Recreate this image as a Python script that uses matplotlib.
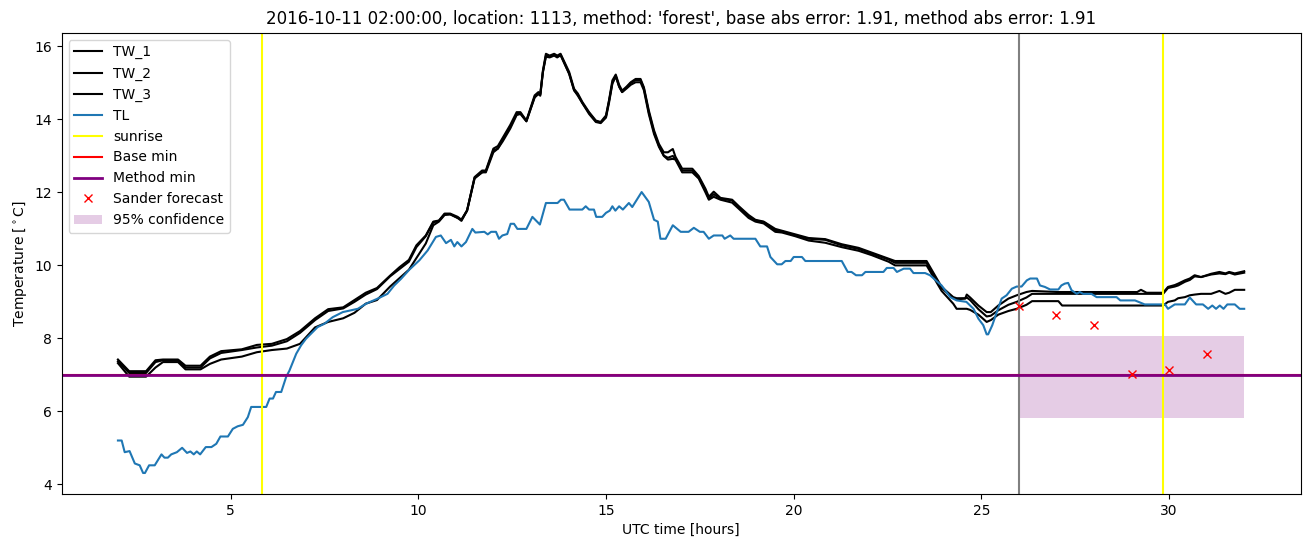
import matplotlib
matplotlib.use("Agg")
import matplotlib.pyplot as plt

# Shared time knots (UTC hours) for the three water temperature sensors
tw_time = [2.0, 2.3, 2.75, 3.0, 3.2, 3.6, 3.8, 4.2, 4.45, 4.75, 5.3, 5.7, 6.1, 6.5,
           6.85, 7.25, 7.6, 8.0, 8.3, 8.6, 8.9, 9.25, 9.5, 9.75, 9.95, 10.2, 10.4,
           10.55, 10.7, 10.85, 11.05, 11.15, 11.3, 11.5, 11.7, 11.8, 12.0, 12.12,
           12.25, 12.45, 12.62, 12.72, 12.88, 13.1, 13.2, 13.25, 13.32, 13.4, 13.5,
           13.62, 13.7, 13.79, 14.02, 14.15, 14.25, 14.37, 14.55, 14.73, 14.86,
           15.0, 15.08, 15.17, 15.26, 15.35, 15.43, 15.55, 15.66, 15.79, 15.92,
           16.01, 16.14, 16.28, 16.41, 16.54, 16.65, 16.78, 16.85, 17.03, 17.3,
           17.47, 17.65, 17.74, 17.87, 18.05, 18.36, 18.54, 18.8, 18.98, 19.2,
           19.51, 19.69, 20.04, 20.4, 20.84, 21.28, 21.73, 22.08, 22.53, 22.7,
           23.54, 23.94, 24.25, 24.34, 24.57, 24.61, 24.7, 24.92, 25.14, 25.25,
           25.45, 25.72, 25.94, 26.2, 26.35, 27.05, 27.15, 29.15, 29.25, 29.4,
           29.84, 29.97, 30.15, 30.24, 30.42, 30.55, 30.68, 30.85, 31.12, 31.34,
           31.5, 31.6, 31.75, 32.0]

tw_1 = [7.42, 7.1, 7.1, 7.4, 7.42, 7.42, 7.25, 7.25, 7.5, 7.65, 7.7, 7.82, 7.85, 7.98,
        8.2, 8.55, 8.8, 8.85, 9.05, 9.25, 9.38, 9.72, 9.95, 10.15, 10.55, 10.82, 11.2,
        11.23, 11.42, 11.42, 11.33, 11.25, 11.51, 12.42, 12.6, 12.6, 13.2, 13.27,
        13.5, 13.85, 14.2, 14.2, 13.97, 14.66, 14.75, 14.7, 15.34, 15.8, 15.75,
        15.8, 15.75, 15.8, 15.3, 14.84, 14.71, 14.48, 14.2, 13.97, 13.93,
        14.11, 14.52, 15.07, 15.23, 14.95, 14.79, 14.9, 15.02, 15.11, 15.11,
        14.88, 14.25, 13.7, 13.33, 13.1, 13.1, 13.19, 12.98, 12.65, 12.65,
        12.45, 12.1, 11.88, 12.02, 11.85, 11.8, 11.62, 11.38, 11.25, 11.2,
        11.0, 10.95, 10.85, 10.75, 10.72, 10.58, 10.48, 10.35, 10.18, 10.12,
        10.12, 9.41, 9.13, 9.1, 9.1, 9.2, 9.12, 8.9, 8.72, 8.72,
        8.9, 9.09, 9.18, 9.27, 9.3, 9.27, 9.27, 9.27, 9.33, 9.25,
        9.25, 9.41, 9.46, 9.5, 9.59, 9.64, 9.73, 9.68, 9.77, 9.82,
        9.78, 9.82, 9.78, 9.84]

tw_2 = [7.37, 7.05, 7.05, 7.35, 7.4, 7.4, 7.2, 7.2, 7.45, 7.6, 7.68, 7.75, 7.8, 7.92,
        8.15, 8.5, 8.75, 8.82, 9.0, 9.2, 9.35, 9.7, 9.9, 10.1, 10.5, 10.8, 11.18,
        11.22, 11.4, 11.4, 11.3, 11.22, 11.5, 12.4, 12.55, 12.58, 13.15, 13.2,
        13.45, 13.8, 14.15, 14.18, 13.95, 14.62, 14.7, 14.68, 15.3, 15.75, 15.72,
        15.78, 15.72, 15.78, 15.25, 14.8, 14.68, 14.45, 14.18, 13.95, 13.92,
        14.08, 14.5, 15.0, 15.2, 14.9, 14.75, 14.88, 15.0, 15.08, 15.08,
        14.85, 14.2, 13.65, 13.28, 13.01, 12.95, 13.0, 12.92, 12.6, 12.6,
        12.42, 12.05, 11.83, 11.95, 11.83, 11.78, 11.6, 11.33, 11.23, 11.19,
        10.96, 10.93, 10.82, 10.73, 10.7, 10.55, 10.45, 10.32, 10.16, 10.07,
        10.07, 9.38, 9.1, 9.07, 9.09, 9.12, 9.05, 8.8, 8.6, 8.62,
        8.77, 8.92, 9.0, 9.12, 9.22, 9.22, 9.22, 9.22, 9.22, 9.22,
        9.22, 9.38, 9.42, 9.45, 9.55, 9.6, 9.7, 9.68, 9.75, 9.78,
        9.76, 9.8, 9.75, 9.8]

tw_3 = [7.32, 6.95, 6.95, 7.2, 7.35, 7.35, 7.15, 7.15, 7.3, 7.42, 7.5, 7.62, 7.68, 7.72,
        7.85, 8.3, 8.45, 8.55, 8.7, 8.95, 9.05, 9.42, 9.65, 9.88, 10.2, 10.6, 11.1,
        11.2, 11.38, 11.4, 11.3, 11.25, 11.5, 12.38, 12.55, 12.55, 13.1, 13.2,
        13.4, 13.75, 14.12, 14.15, 13.95, 14.6, 14.7, 14.65, 15.3, 15.72, 15.7,
        15.75, 15.7, 15.76, 15.25, 14.8, 14.65, 14.45, 14.15, 13.93, 13.9,
        14.05, 14.45, 14.98, 15.18, 14.9, 14.75, 14.85, 14.95, 15.02, 15.02,
        14.8, 14.15, 13.6, 13.25, 13.0, 12.9, 12.92, 12.9, 12.55, 12.55,
        12.38, 12.0, 11.8, 11.88, 11.8, 11.72, 11.55, 11.3, 11.2, 11.15,
        10.92, 10.9, 10.8, 10.68, 10.62, 10.5, 10.4, 10.28, 10.1, 10.0,
        10.0, 9.3, 8.95, 8.81, 8.81, 8.81, 8.78, 8.65, 8.45, 8.5,
        8.65, 8.75, 8.81, 8.92, 9.02, 9.02, 8.9, 8.9, 8.9, 8.9,
        8.9, 9.0, 9.04, 9.1, 9.13, 9.18, 9.2, 9.22, 9.22, 9.3,
        9.22, 9.25, 9.33, 9.33]

# Air temperature (TL)
tl_time = [2.0, 2.1, 2.18, 2.31, 2.45, 2.58, 2.67, 2.72, 2.83, 2.98, 3.16, 3.24, 3.33,
           3.42, 3.57, 3.71, 3.84, 3.93, 4.02, 4.1, 4.19, 4.34, 4.49, 4.62, 4.73, 4.93,
           5.06, 5.19, 5.33, 5.46, 5.55, 5.95, 6.04, 6.13, 6.21, 6.35, 6.48, 6.57,
           6.75, 6.88, 7.01, 7.32, 7.5, 7.72, 7.99, 8.39, 8.61, 8.92, 9.18, 9.36,
           9.54, 9.76, 10.03, 10.25, 10.47, 10.6, 10.74, 10.87, 10.96, 11.04, 11.15,
           11.27, 11.44, 11.52, 11.76, 11.85, 11.94, 12.07, 12.15, 12.24, 12.37,
           12.46, 12.55, 12.64, 12.88, 13.04, 13.24, 13.4, 13.71, 13.8, 13.88,
           14.03, 14.37, 14.46, 14.55, 14.68, 14.74, 14.9, 15.0, 15.1, 15.17,
           15.25, 15.35, 15.45, 15.61, 15.7, 15.84, 15.95, 16.14, 16.28, 16.38,
           16.45, 16.59, 16.78, 16.99, 17.2, 17.34, 17.5, 17.6, 17.74, 17.87, 18.1,
           18.16, 18.31, 18.4, 18.98, 19.11, 19.29, 19.38, 19.56, 19.68, 19.78,
           19.92, 20.0, 20.22, 20.31, 21.28, 21.44, 21.54, 21.66, 21.82, 21.91,
           22.39, 22.48, 22.66, 22.75, 22.93, 23.1, 23.19, 23.5, 23.63, 23.94,
           24.17, 24.34, 24.6, 24.79, 24.92, 25.05, 25.14, 25.18, 25.29, 25.41,
           25.54, 25.67, 25.81, 25.94, 26.07, 26.21, 26.3, 26.48, 26.56, 26.69,
           26.83, 27.05, 27.13, 27.22, 27.31, 27.4, 27.54, 27.62, 27.71, 27.93,
           28.07, 28.6, 28.7, 29.09, 29.35, 29.89, 29.97, 30.15, 30.42, 30.55,
           30.72, 30.9, 31.04, 31.15, 31.25, 31.35, 31.45, 31.55, 31.75, 31.88,
           32.0]

tl = [5.2, 5.2, 4.88, 4.91, 4.57, 4.52, 4.31, 4.31, 4.52, 4.52, 4.82, 4.73, 4.73,
      4.82, 4.88, 5.0, 4.86, 4.9, 4.82, 4.9, 4.82, 5.02, 5.02, 5.11, 5.31, 5.31,
      5.52, 5.59, 5.63, 5.84, 6.12, 6.12, 6.35, 6.35, 6.53, 6.53, 6.94, 7.12,
      7.58, 7.81, 7.99, 8.31, 8.4, 8.58, 8.72, 8.81, 8.95, 9.09, 9.22, 9.45,
      9.63, 9.88, 10.14, 10.41, 10.78, 10.82, 10.61, 10.7, 10.52, 10.64, 10.52,
      10.64, 11.0, 10.9, 10.92, 10.85, 10.92, 10.92, 10.73, 10.82, 10.86,
      11.14, 11.14, 11.0, 11.0, 11.33, 11.12, 11.71, 11.71, 11.8, 11.8,
      11.53, 11.53, 11.62, 11.53, 11.53, 11.33, 11.33, 11.44, 11.5, 11.62,
      11.5, 11.62, 11.53, 11.71, 11.6, 11.83, 12.01, 11.74, 11.25, 11.2,
      10.73, 10.73, 11.1, 10.92, 10.92, 11.03, 10.92, 10.92, 10.73, 10.82, 10.82,
      10.73, 10.82, 10.73, 10.73, 10.52, 10.52, 10.23, 10.03, 10.03, 10.12,
      10.12, 10.23, 10.23, 10.12, 10.12, 9.82, 9.82, 9.73, 9.73, 9.82,
      9.82, 9.93, 9.93, 9.82, 9.91, 9.91, 9.79, 9.79, 9.73, 9.45,
      9.13, 9.04, 9.0, 8.81, 8.54, 8.36, 8.11, 8.11, 8.36, 8.72,
      9.09, 9.18, 9.36, 9.42, 9.42, 9.59, 9.64, 9.64, 9.45, 9.41,
      9.34, 9.34, 9.45, 9.5, 9.52, 9.32, 9.22, 9.27, 9.22, 9.22,
      9.13, 9.13, 9.04, 9.04, 8.93, 8.93, 8.81, 8.93, 8.93, 9.12,
      8.93, 8.93, 8.81, 8.9, 8.81, 8.9, 8.81, 8.93, 8.93, 8.81,
      8.81]

sunrise_hours = [5.85, 29.84]
forecast_start = 26.0
base_min = 7.0
method_min = 7.0

# Sander forecast points and the confidence band
forecast_hours = [26, 27, 28, 29, 30, 31]
forecast_values = [8.9, 8.63, 8.36, 7.01, 7.12, 7.56]
conf_hours = [26.0, 32.0]
conf_low = [5.83, 5.83]
conf_high = [8.07, 8.07]

title = ("2016-10-11 02:00:00, location: 1113, method: 'forest', "
         "base abs error: 1.91, method abs error: 1.91")


def make_plot():
    fig, ax = plt.subplots(figsize=(13.11, 5.47), dpi=100)
    fig.subplots_adjust(left=0.047, right=0.992, top=0.94, bottom=0.097)

    ax.plot(tw_time, tw_1, color="black", label="TW_1")
    ax.plot(tw_time, tw_2, color="black", label="TW_2")
    ax.plot(tw_time, tw_3, color="black", label="TW_3")
    ax.plot(tl_time, tl, color="tab:blue", label="TL")

    for i, h in enumerate(sunrise_hours):
        ax.axvline(h, color="yellow", label="sunrise" if i == 0 else None)
    ax.axvline(forecast_start, color="gray")

    ax.axhline(base_min, color="red", label="Base min")
    ax.axhline(method_min, color="purple", linewidth=2, label="Method min")

    ax.plot(forecast_hours, forecast_values, "rx", label="Sander forecast")
    ax.fill_between(conf_hours, conf_low, conf_high, color="purple", alpha=0.2,
                    linewidth=0, label="95% confidence")

    ax.set_title(title)
    ax.set_xlabel("UTC time [hours]")
    ax.set_ylabel("Temperature [$^\\circ$C]")
    ax.legend(loc="upper left")

    fig.savefig("out.png")


if __name__ == "__main__":
    make_plot()
